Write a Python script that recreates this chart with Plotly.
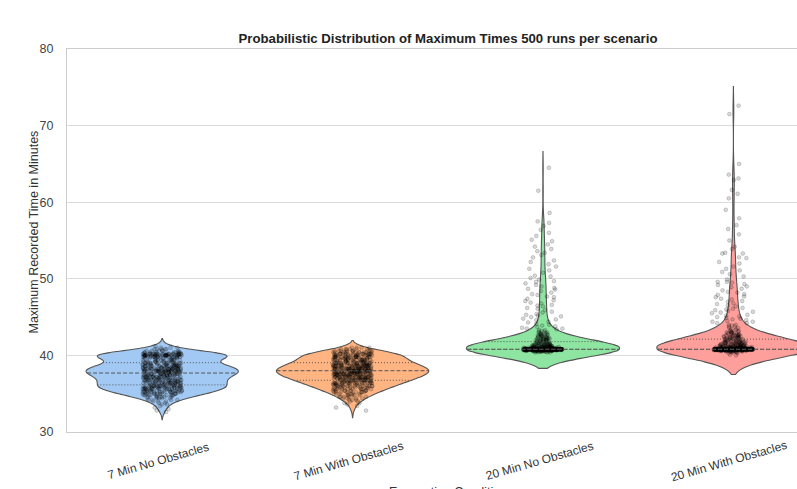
import numpy as np
import plotly.graph_objects as go

# ---------------------------------------------------------------- data
scenarios = ["7 Min No Obstacles", "7 Min With Obstacles",
             "20 Min No Obstacles", "20 Min With Obstacles"]

# Maximum recorded time (minutes) and the number of runs that ended at it
no7_times = [32.6, 32.8, 33.0, 33.2, 33.4, 33.6, 33.8, 34.0, 34.2, 34.4, 34.6,
             34.8, 35.0, 35.2, 35.4, 35.6, 35.8, 36.0, 36.2, 36.4, 36.6, 36.8,
             37.0, 37.2, 37.4, 37.6, 37.8, 38.0, 38.2, 38.4, 38.6, 38.8, 39.0,
             39.2, 39.4, 39.6, 39.8, 40.0, 40.2, 40.4, 40.6, 40.8, 41.0, 41.2]
no7_runs = [1, 1, 1, 1, 1, 2, 2, 3, 4, 5, 7,
            9, 11, 13, 14, 15, 17, 18, 15, 15, 15, 15,
            16, 16, 16, 17, 22, 21, 19, 18, 16, 15, 14,
            11, 10, 10, 14, 34, 22, 9, 6, 5, 3, 1]
no7_single = []

obs7_times = [32.8, 33.2, 33.4, 33.6, 33.8, 34.0, 34.2, 34.4, 34.6, 34.8,
              35.0, 35.2, 35.4, 35.6, 35.8, 36.0, 36.2, 36.4, 36.6, 36.8,
              37.0, 37.2, 37.4, 37.6, 37.8, 38.0, 38.2, 38.4, 38.6, 38.8,
              39.0, 39.2, 39.4, 39.6, 39.8, 40.0, 40.2, 40.4, 40.6, 40.8, 41.0]
obs7_runs = [1, 1, 1, 1, 2, 2, 3, 4, 5, 5,
             6, 8, 9, 10, 11, 12, 14, 15, 15, 18,
             19, 20, 21, 22, 23, 24, 23, 22, 21, 19,
             18, 16, 15, 15, 16, 17, 15, 12, 9, 6, 4]
obs7_single = []

no20_times = [40.4, 40.5, 40.6, 40.7, 40.8, 40.9, 41.0, 41.1, 41.2, 41.3,
              41.4, 41.5, 41.6, 41.7, 41.8, 41.9, 42.0, 42.1, 42.2, 42.3,
              42.4, 42.5, 42.6, 42.7, 42.8, 42.9, 43.0, 43.1, 43.2, 43.3,
              43.4, 43.5, 43.6, 43.7, 43.8, 43.9]
no20_runs = [4, 8, 20, 40, 200, 30, 20, 12, 10, 8,
             7, 6, 5, 4, 4, 5, 5, 4, 4, 4,
             4, 3, 3, 3, 3, 2, 2, 2, 1, 2,
             1, 2, 1, 1, 1, 1]
no20_single = [44.0, 44.1, 44.3, 44.4, 44.6, 44.7, 44.8, 45.0, 45.1, 45.2,
               45.3, 45.4, 45.6, 45.7, 45.9, 46.1, 46.2, 46.4, 46.5, 46.6,
               46.8, 46.9, 47.1, 47.2, 47.4, 47.6, 47.7, 47.9, 48.0, 48.2,
               48.4, 48.6, 48.7, 48.8, 49.0, 49.2, 49.4, 49.6, 49.7, 49.9,
               50.1, 50.3, 50.4, 50.8, 51.1, 51.3, 51.6, 51.9, 52.2, 52.4,
               52.8, 53.1, 53.4, 53.6, 53.9, 54.2, 54.5, 54.9, 55.1, 55.6,
               56.0, 56.4, 56.9, 57.3, 57.5, 58.6, 61.5, 64.5]

obs20_times = [40.0, 40.1, 40.3, 40.4, 40.5, 40.6, 40.7, 40.8, 40.9, 41.0,
               41.1, 41.2, 41.3, 41.4, 41.5, 41.6, 41.7, 41.8, 41.9, 42.0,
               42.1, 42.2, 42.3, 42.4, 42.5, 42.6, 42.7, 42.8, 42.9, 43.0,
               43.1, 43.2, 43.3, 43.4, 43.6, 43.8, 44.0, 44.2, 44.4]
obs20_runs = [1, 1, 2, 3, 6, 15, 35, 190, 25, 18,
              12, 10, 9, 8, 7, 7, 6, 6, 5, 5,
              4, 5, 5, 5, 4, 4, 3, 3, 3, 3,
              2, 2, 2, 2, 2, 2, 2, 2, 2]
obs20_single = [43.9, 44.5, 44.6, 44.7, 44.8, 44.9, 45.0, 45.1, 45.2, 45.3,
                45.5, 45.6, 45.7, 45.8, 45.9, 46.0, 46.1, 46.2, 46.4, 46.5,
                46.7, 46.8, 47.0, 47.1, 47.3, 47.4, 47.6, 47.7, 47.9, 48.0,
                48.2, 48.3, 48.5, 48.7, 48.9, 49.0, 49.2, 49.3, 49.5, 49.6,
                49.6, 49.9, 50.3, 50.6, 50.9, 51.1, 51.3, 51.6, 52.0, 52.2,
                52.7, 52.8, 53.3, 53.3, 53.4, 53.9, 54.2, 55.0, 55.8, 56.5,
                57.0, 57.9, 59.0, 60.5, 61.1, 61.6, 62.9, 63.1, 63.6, 65.0,
                71.5, 72.6]

y_ticks = [30, 40, 50, 60, 70, 80]

# ---------------------------------------------------------------- style
fills = ["#a1c9f4", "#ffb482", "#8de5a1", "#ff9f9b"]
bandwidths = [0.5, 0.47, 1.05, 1.25]
edge = "#555555"
half_width = 0.4
font_family = "Liberation Sans, Arial, sans-serif"


def expand(times, runs, single):
    return np.concatenate([np.repeat(np.asarray(times, float), runs),
                           np.asarray(single, float)])


def gauss_kde(samples, grid, bw):
    z = (grid[:, None] - samples[None, :]) / bw
    return np.exp(-0.5 * z ** 2).sum(axis=1) / (len(samples) * bw * np.sqrt(2 * np.pi))


samples = [expand(no7_times, no7_runs, no7_single),
           expand(obs7_times, obs7_runs, obs7_single),
           expand(no20_times, no20_runs, no20_single),
           expand(obs20_times, obs20_runs, obs20_single)]

fig = go.Figure()

# violin bodies
for i, (vals, col, bw) in enumerate(zip(samples, fills, bandwidths)):
    fig.add_trace(go.Violin(
        x0=i, y=vals, orientation="v", width=2 * half_width,
        bandwidth=bw, spanmode="soft", scalemode="width",
        fillcolor=col, line=dict(color=edge, width=1.1), opacity=1,
        points=False, hoverinfo="skip", showlegend=False))

# jittered runs (dense core and sparse tail are jittered separately)
for i, vals in enumerate(samples):
    q1, q3 = np.percentile(vals, [25, 75])
    iqr = q3 - q1
    inside = (vals >= q1 - 1.5 * iqr) & (vals <= q3 + 1.5 * iqr)
    for part, jit in ((vals[inside], 0.26), (vals[~inside], 0.34)):
        if len(part) == 0:
            continue
        fig.add_trace(go.Box(
            x0=i, y=part, width=2 * half_width, boxpoints="all", jitter=jit,
            pointpos=0, fillcolor="rgba(0,0,0,0)",
            line=dict(color="rgba(0,0,0,0)", width=0), whiskerwidth=0,
            marker=dict(size=3.8, color="rgba(0,0,0,0.15)",
                        line=dict(width=0.6, color="rgba(0,0,0,0.28)")),
            hoverinfo="skip", showlegend=False))

# quartile lines inside each violin
for i, (vals, bw) in enumerate(zip(samples, bandwidths)):
    grid = np.linspace(vals.min() - 2 * bw, vals.max() + 2 * bw, 2000)
    dmax = gauss_kde(vals, grid, bw).max()
    qs = np.percentile(vals, [25, 50, 75])
    for q, dash in zip(qs, ["1px,2px", "4px,2px", "1px,2px"]):
        hw = half_width * gauss_kde(vals, np.array([q]), bw)[0] / dmax
        fig.add_trace(go.Scatter(
            x=[i - hw, i + hw], y=[q, q], mode="lines",
            line=dict(color=edge, width=1, dash=dash),
            hoverinfo="skip", showlegend=False))

# ---------------------------------------------------------------- layout
plot_left, plot_top, plot_bottom, W, H = 67, 49, 432, 797, 489
plot_h = plot_bottom - plot_top
plot_w = W - plot_left
cat_step = 190.4


def py(px):
    return (plot_bottom - px) / plot_h


annotations = []
for i, name in enumerate(scenarios):
    annotations.append(dict(
        text=name, x=i, xref="x", y=py(461), yref="paper",
        xanchor="center", yanchor="middle", textangle=-16, xshift=-4,
        showarrow=False, font=dict(size=12, color="#333333", family=font_family)))

annotations.append(dict(
    text="Maximum Recorded Time in Minutes", textangle=-90,
    x=(33 - plot_left) / plot_w, xref="paper", xanchor="center",
    y=py(232.5), yref="paper", yanchor="middle", showarrow=False,
    font=dict(size=12.5, color="#333333", family=font_family)))

annotations.append(dict(
    text="Evacuation Condition",
    x=(448 - plot_left) / plot_w, xref="paper", xanchor="center",
    y=py(483), yref="paper", yanchor="top", showarrow=False,
    font=dict(size=12.5, color="#333333", family=font_family)))

fig.update_layout(
    width=W, height=H,
    margin=dict(l=plot_left, r=0, t=plot_top, b=H - plot_bottom, pad=0),
    paper_bgcolor="white", plot_bgcolor="white",
    font=dict(family=font_family, size=12, color="#333333"),
    showlegend=False, violinmode="overlay", boxmode="overlay",
    title=dict(text="Probabilistic Distribution of Maximum Times 500 runs per scenario",
               x=448 / W, xanchor="center", y=1 - 38 / H, yanchor="middle",
               font=dict(size=13.2, color="#222222", family=font_family, weight="bold")),
    xaxis=dict(type="linear", range=[-0.5, -0.5 + plot_w / cat_step],
               showgrid=False, zeroline=False, showticklabels=False, ticks="",
               showline=True, linecolor="#cccccc", linewidth=1, mirror=True),
    yaxis=dict(range=[30, 80], tickvals=y_ticks, showgrid=True,
               gridcolor="#dcdcdc", gridwidth=1, zeroline=False,
               showline=True, linecolor="#cccccc", linewidth=1, ticks="",
               ticklabelstandoff=10,
               tickfont=dict(size=12.5, color="#444444", family=font_family)),
    annotations=annotations,
)

fig.write_html("out.html")
